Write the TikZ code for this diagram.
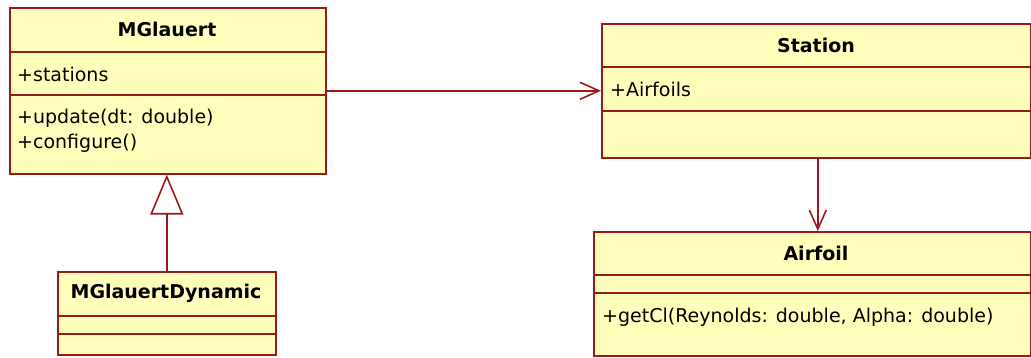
\documentclass[tikz,border=0pt]{standalone}
\usepackage{fontspec}
\setmainfont{DejaVu Sans}
\usetikzlibrary{arrows.meta,calc}

\definecolor{umlfill}{RGB}{255,255,187}
\definecolor{umlline}{RGB}{150,28,28}

\tikzset{
  classbox/.style={draw=umlline, fill=umlfill, line width=1.6pt, rectangle,
    anchor=north west, inner sep=0pt},
  divider/.style={draw=umlline, line width=1.6pt},
  classname/.style={font=\fontsize{19}{22}\selectfont\bfseries, inner sep=0pt},
  member/.style={font=\fontsize{19}{22}\selectfont, anchor=west, inner sep=0pt},
  assoc/.style={draw=umlline, line width=1.6pt,
    -{Straight Barb[length=19pt,width=17pt,line width=1.6pt]}},
  generalize/.style={draw=umlline, line width=1.6pt,
    -{Triangle[open,length=40pt,width=33pt,line width=1.6pt,fill=white]}}
}

\begin{document}
\begin{tikzpicture}[x=1pt,y=-1pt]
  \useasboundingbox (0,0) rectangle (1031,358);

  % MGlauert
  \node[classbox, minimum width=316pt, minimum height=166pt] (mg) at (9,7) {};
  \draw[divider] (9,52) -- (325,52);
  \draw[divider] (9,95) -- (325,95);
  \node[classname] (mgname) at (167,29.5) {MGlauert};
  \node[member] (mgattr) at (17,74) {+stations};
  \node[member] (mgop1) at (17,118) {+update(dt: double)};
  \node[member] (mgop2) at (17,143) {+configure()};

  % MGlauertDynamic
  \node[classbox, minimum width=218pt, minimum height=83pt] (mgd) at (57,271) {};
  \draw[divider] (57,316) -- (275,316);
  \draw[divider] (57,334) -- (275,334);
  \node[classname] (mgdname) at (166,293.5) {MGlauertDynamic};

  % Station
  \node[classbox, minimum width=429pt, minimum height=134pt] (st) at (601,23) {};
  \draw[divider] (601,67) -- (1030,67);
  \draw[divider] (601,111) -- (1030,111);
  \node[classname] (stname) at (816,45) {Station};
  \node[member] (stattr) at (610,89) {+Airfoils};

  % Airfoil
  \node[classbox, minimum width=437pt, minimum height=124pt] (af) at (593,231) {};
  \draw[divider] (593,275) -- (1030,275);
  \draw[divider] (593,293) -- (1030,293);
  \node[classname] (afname) at (816,253) {Airfoil};
  \node[member] (afop) at (602,317) {+getCl(Reynolds: double, Alpha: double)};

  % Connectors
  \draw[assoc] (mg.east) -- (st.west);
  \draw[assoc] ([xshift=1.5pt]st.south) -- ([xshift=1.5pt]st.south |- af.north);
  \draw[generalize] (mgd.north) -- (mgd.north |- mg.south);
\end{tikzpicture}
\end{document}
